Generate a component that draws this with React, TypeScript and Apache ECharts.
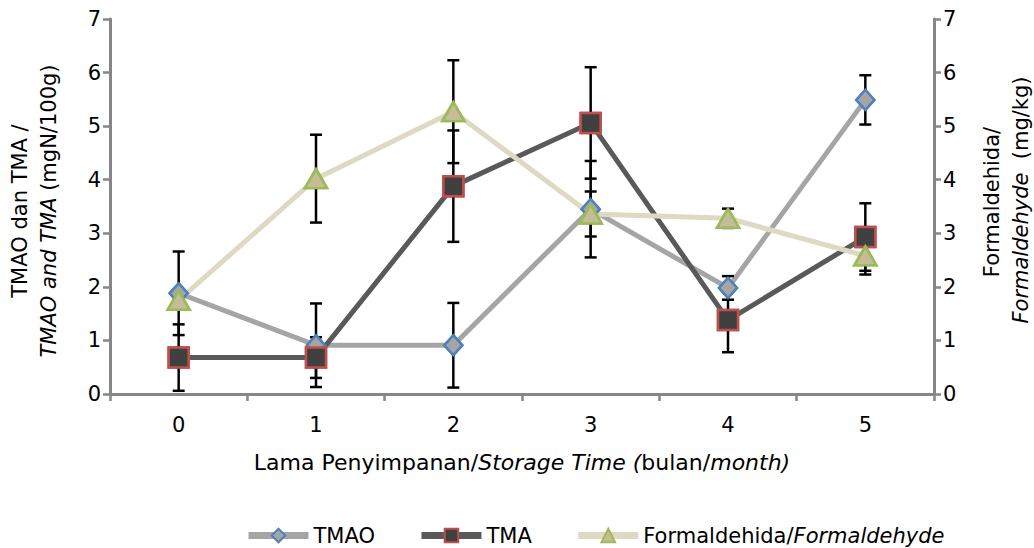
import React, { useEffect, useRef } from "react";
import * as echarts from "echarts";

const categories = ["0", "1", "2", "3", "4", "5"];
const tmao = [1.88, 0.91, 0.91, 3.45, 1.98, 5.49];
const tmaoErr = [0.78, 0.78, 0.79, 0.9, 0.22, 0.46];
const tma = [0.68, 0.68, 3.88, 5.06, 1.38, 2.93];
const tmaErr = [0.62, 0.38, 1.04, 1.04, 0.6, 0.63];
const formal = [1.75, 4.02, 5.27, 3.36, 3.28, 2.58];
const formalErr = [0.08, 0.82, 0.96, 0.42, 0.18, 0.35];
const yTicks = [0, 1, 2, 3, 4, 5, 6, 7];

const FONT = "DejaVu Sans";

function errData(vals: number[], errs: number[]) {
  return vals.map((v, i) => [i, v - errs[i], v + errs[i]]);
}

function errSeries(name: string, vals: number[], errs: number[], yAxisIndex: number) {
  return {
    type: "custom",
    name,
    yAxisIndex,
    z: 3,
    data: errData(vals, errs),
    encode: { x: 0, y: [1, 2] },
    renderItem: (params: any, api: any) => {
      const x = api.value(0);
      const lo = api.value(1);
      const hi = api.value(2);
      const p1 = api.coord([x, hi]);
      const p2 = api.coord([x, lo]);
      const w = 6;
      const st = { stroke: "#000", lineWidth: 2.5 };
      return {
        type: "group",
        children: [
          { type: "line", shape: { x1: p1[0], y1: p1[1], x2: p2[0], y2: p2[1] }, style: st },
          { type: "line", shape: { x1: p1[0] - w, y1: p1[1], x2: p1[0] + w, y2: p1[1] }, style: st },
          { type: "line", shape: { x1: p2[0] - w, y1: p2[1], x2: p2[0] + w, y2: p2[1] }, style: st },
        ],
      };
    },
  };
}

const styles = {
  tmao: { line: "#A5A5A5", fill: "#A5A5A5", border: "#4F81BD", symbol: "diamond", size: [18, 20] },
  tma: { line: "#595959", fill: "#404040", border: "#C0504D", symbol: "rect", size: [20, 20] },
  formal: { line: "#DDD9C3", fill: "#C4BD97", border: "#9BBB59", symbol: "triangle", size: [22, 19] },
};

function lineSeries(name: string, vals: number[], s: any, yAxisIndex: number) {
  return {
    type: "line",
    name,
    yAxisIndex,
    z: 2,
    data: vals,
    symbol: s.symbol,
    symbolSize: s.size,
    lineStyle: { color: s.line, width: 5 },
    itemStyle: { color: s.fill, borderColor: s.border, borderWidth: 2.5 },
  };
}

function markerSeries(name: string, vals: number[], s: any, yAxisIndex: number) {
  return {
    type: "scatter",
    name,
    yAxisIndex,
    z: 4,
    data: vals,
    symbol: s.symbol,
    symbolSize: s.size,
    itemStyle: { color: s.fill, borderColor: s.border, borderWidth: 2.5, opacity: 1 },
  };
}

const axisColor = "#868686";

export default function App() {
  const ref = useRef<HTMLDivElement>(null);
  useEffect(() => {
    if (!ref.current) return;
    const chart = echarts.init(ref.current, null, { renderer: "svg" });
    const yAxisBase = (position: string) => ({
      type: "value",
      position,
      min: 0,
      max: 7,
      interval: 1,
      axisLine: { show: true, lineStyle: { color: axisColor, width: 3 } },
      axisTick: { show: true, length: 7, lineStyle: { color: axisColor, width: 2.5 } },
      splitLine: { show: false },
      axisLabel: {
        color: "#000",
        fontFamily: FONT,
        fontSize: 21,
        margin: 9,
        formatter: (v: number) => (yTicks.indexOf(v) >= 0 ? String(v) : ""),
      },
    });
    chart.setOption({
      animation: false,
      backgroundColor: "#fff",
      grid: { left: 110, right: 100, top: 19, bottom: 154 },
      xAxis: {
        type: "category",
        data: categories,
        boundaryGap: true,
        axisLine: { lineStyle: { color: axisColor, width: 3 } },
        axisTick: { show: true, length: 7, lineStyle: { color: axisColor, width: 2.5 } },
        axisLabel: { color: "#000", fontFamily: FONT, fontSize: 21, margin: 20 },
      },
      yAxis: [yAxisBase("left"), yAxisBase("right")],
      legend: {
        data: ["TMAO", "TMA", "Formaldehida/Formaldehyde"],
        left: 240,
        top: 520,
        itemWidth: 60,
        itemHeight: 17,
        itemGap: 43,
        lineStyle: { width: 7 },
        textStyle: {
          color: "#000",
          fontFamily: FONT,
          fontSize: 21,
          rich: {
            n: { fontFamily: FONT, fontSize: 21, color: "#000" },
            i: { fontFamily: FONT, fontSize: 21, fontStyle: "italic", color: "#000" },
          },
        },
        formatter: (name: string) =>
          name === "Formaldehida/Formaldehyde" ? "{n|Formaldehida/}{i|Formaldehyde}" : name,
      },
      graphic: [
        {
          type: "text",
          x: 20,
          y: 211,
          rotation: Math.PI / 2,
          style: {
            text: "TMAO dan TMA /",
            fontFamily: FONT,
            fontSize: 21,
            fill: "#000",
            align: "center",
            verticalAlign: "middle",
          },
        },
        {
          type: "text",
          x: 49,
          y: 211,
          rotation: Math.PI / 2,
          style: {
            text: "{i|TMAO and TMA} {n|(mgN/100g)}",
            fontFamily: FONT,
            fontSize: 21,
            fill: "#000",
            align: "center",
            verticalAlign: "middle",
            rich: {
              i: { fontFamily: FONT, fontSize: 21, fontStyle: "italic", fill: "#000" },
              n: { fontFamily: FONT, fontSize: 21, fill: "#000" },
            },
          },
        },
        {
          type: "text",
          x: 992,
          y: 202,
          rotation: Math.PI / 2,
          style: {
            text: "Formaldehida/",
            fontFamily: FONT,
            fontSize: 21,
            fill: "#000",
            align: "center",
            verticalAlign: "middle",
          },
        },
        {
          type: "text",
          x: 1021,
          y: 200,
          rotation: Math.PI / 2,
          style: {
            text: "{i|Formaldehyde}{n|  (mg/kg)}",
            fontFamily: FONT,
            fontSize: 21,
            fill: "#000",
            align: "center",
            verticalAlign: "middle",
            rich: {
              i: { fontFamily: FONT, fontSize: 21, fontStyle: "italic", fill: "#000" },
              n: { fontFamily: FONT, fontSize: 21, fill: "#000" },
            },
          },
        },
        {
          type: "text",
          x: 522,
          y: 462,
          style: {
            text: "{n|Lama Penyimpanan/}{i|Storage Time (}{n|bulan/}{i|month)}",
            fontFamily: FONT,
            fontSize: 22,
            fill: "#000",
            align: "center",
            verticalAlign: "middle",
            rich: {
              i: { fontFamily: FONT, fontSize: 22, fontStyle: "italic", fill: "#000" },
              n: { fontFamily: FONT, fontSize: 22, fill: "#000" },
            },
          },
        },
      ],
      series: [
        lineSeries("TMAO", tmao, styles.tmao, 0),
        lineSeries("TMA", tma, styles.tma, 0),
        lineSeries("Formaldehida/Formaldehyde", formal, styles.formal, 1),
        errSeries("errTMAO", tmao, tmaoErr, 0),
        errSeries("errTMA", tma, tmaErr, 0),
        errSeries("errFormal", formal, formalErr, 1),
        markerSeries("mTMAO", tmao, styles.tmao, 0),
        markerSeries("mTMA", tma, styles.tma, 0),
        markerSeries("mFormal", formal, styles.formal, 1),
      ],
    });
    return () => chart.dispose();
  }, []);
  return (
    <div
      ref={ref}
      style={{ width: 1034, height: 548, position: "absolute", left: 0, top: 0 }}
    />
  );
}
